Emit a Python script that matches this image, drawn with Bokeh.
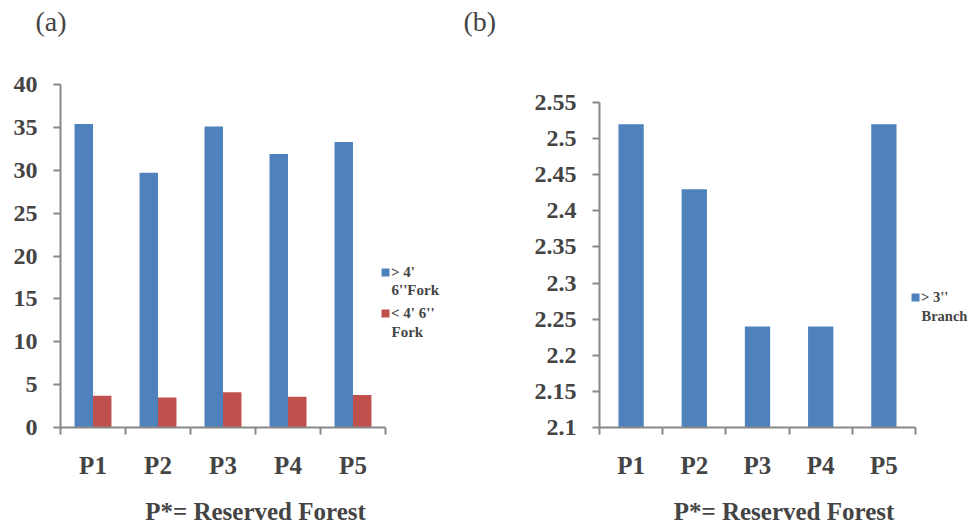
from bokeh.plotting import figure
from bokeh.models import (Range1d, LinearAxis, FixedTicker, Legend, LegendItem, Label, Title,
                          CustomJSTickFormatter, ColumnDataSource)
from bokeh.layouts import row
from bokeh.transform import dodge
from bokeh.embed import file_html
from bokeh.resources import INLINE

# ---------------- data ----------------
plots = ["P1", "P2", "P3", "P4", "P5"]
fork_above = [35.4, 29.7, 35.1, 31.9, 33.3]      # > 4' 6''Fork
fork_below = [3.7, 3.5, 4.1, 3.6, 3.8]           # < 4' 6'' Fork
branch = [2.52, 2.43, 2.24, 2.24, 2.52]          # > 3'' Branch
a_ticks = [0, 5, 10, 15, 20, 25, 30, 35, 40]
b_ticks = [2.1, 2.15, 2.2, 2.25, 2.3, 2.35, 2.4, 2.45, 2.5, 2.55]
a_legend = [["> 4'", "6''Fork"], ["< 4' 6''", "Fork"]]
b_legend = [["> 3''", "Branch"]]
x_title = "P*= Reserved Forest"

BLUE = "#4F81BD"
RED = "#C0504D"
GRAY = "#888888"
FONT = "Liberation Serif"

n = len(plots)
centers = [i + 0.5 for i in range(n)]      # category slots 0..n on a numeric scale
edges = list(range(n + 1))


def base_fig(width, x_end, y_range, ticks, borders, title, title_offset, title_gap, formatter=None):
    p = figure(width=width, height=527, x_range=Range1d(0, x_end),
               y_range=y_range, output_backend="svg", toolbar_location=None,
               x_axis_type=None, y_axis_type=None, frame_align=False,
               min_border_left=borders[0], min_border_right=borders[1],
               min_border_top=borders[2], min_border_bottom=borders[3])
    p.outline_line_color = None
    p.title.text = title
    p.title.text_font = FONT
    p.title.text_font_style = "normal"
    p.title.text_font_size = "28px"
    p.title.align = "left"
    p.title.vertical_align = "top"
    p.title.offset = title_offset
    p.title.standoff = 0
    # empty spacer between the panel title and the plot frame
    p.add_layout(Title(text=" ", text_font_size="1px", standoff=title_gap), "above")

    yax = LinearAxis(ticker=FixedTicker(ticks=ticks), axis_line_color=GRAY, axis_line_width=2,
                     major_tick_line_color=GRAY, major_tick_line_width=2, major_tick_in=0,
                     major_tick_out=7, minor_tick_line_color=None,
                     major_label_text_font=FONT, major_label_text_font_style="bold",
                     major_label_text_font_size="24px", major_label_standoff=16)
    if formatter is not None:
        yax.formatter = formatter
    p.add_layout(yax, "left")

    xax = LinearAxis(ticker=FixedTicker(ticks=centers, minor_ticks=edges), bounds=(0, n),
                     axis_line_color=GRAY, axis_line_width=2,
                     major_tick_line_color=None, major_tick_in=0, major_tick_out=0,
                     minor_tick_line_color=GRAY, minor_tick_line_width=2,
                     minor_tick_in=0, minor_tick_out=7,
                     formatter=CustomJSTickFormatter(args=dict(labels=plots),
                                                     code="return labels[Math.round(tick - 0.5)];"),
                     major_label_text_font=FONT, major_label_text_font_style="bold",
                     major_label_text_font_size="25px", major_label_standoff=17,
                     axis_label=x_title, axis_label_text_font=FONT,
                     axis_label_text_font_style="bold", axis_label_text_font_size="25px",
                     axis_label_standoff=16)
    p.add_layout(xax, "below")
    return p


def add_legend(p, renderers, texts, x, y_first, spacing, y_second, size):
    legend = Legend(items=[LegendItem(label=t[0], renderers=[r]) for t, r in zip(texts, renderers)],
                    location=(x, y_first), glyph_width=10, glyph_height=10, label_standoff=1,
                    padding=0, margin=0, border_line_color=None, background_fill_alpha=0,
                    label_text_font=FONT, label_text_font_style="bold",
                    label_text_font_size=size, label_height=18, spacing=spacing)
    p.add_layout(legend, "center")
    # wrapped second line of each legend entry
    for t, ys in zip(texts, y_second):
        p.add_layout(Label(x=x + 11, y=ys, x_units="screen", y_units="screen", text=t[1],
                           text_font=FONT, text_font_style="bold", text_font_size=size,
                           text_align="left", text_baseline="middle"))


# ---------------- figure (a) ----------------
src_a = ColumnDataSource(dict(x=centers, above=fork_above, below=fork_below))
pa = base_fig(460, 6.0, Range1d(0, 40), a_ticks, (60, 10, 84, 100), "(a)", -25, 43)
r1 = pa.vbar(x=dodge("x", -0.142), top="above", bottom=0, width=0.284,
             source=src_a, fill_color=BLUE, line_color=None)
r2 = pa.vbar(x=dodge("x", 0.142), top="below", bottom=0, width=0.284,
             source=src_a, fill_color=RED, line_color=None)
add_legend(pa, [r1, r2], a_legend, 320, 105, 23, [138, 96], "15px")

# ---------------- figure (b) ----------------
src_b = ColumnDataSource(dict(x=centers, branch=branch))
pb = base_fig(508, 5.839, Range1d(b_ticks[0], b_ticks[-1]), b_ticks, (139, 0, 102, 99), "(b)", -136, 61,
              formatter=CustomJSTickFormatter(code="return String(Number(tick.toFixed(2)));"))
r3 = pb.vbar(x="x", top="branch", bottom=b_ticks[0], width=0.4, source=src_b,
             fill_color=BLUE, line_color=None)
add_legend(pb, [r3], b_legend, 311, 121, 0, [112], "14.5px")

layout = row(pa, pb)
open("out.html", "w").write(file_html(layout, INLINE))
